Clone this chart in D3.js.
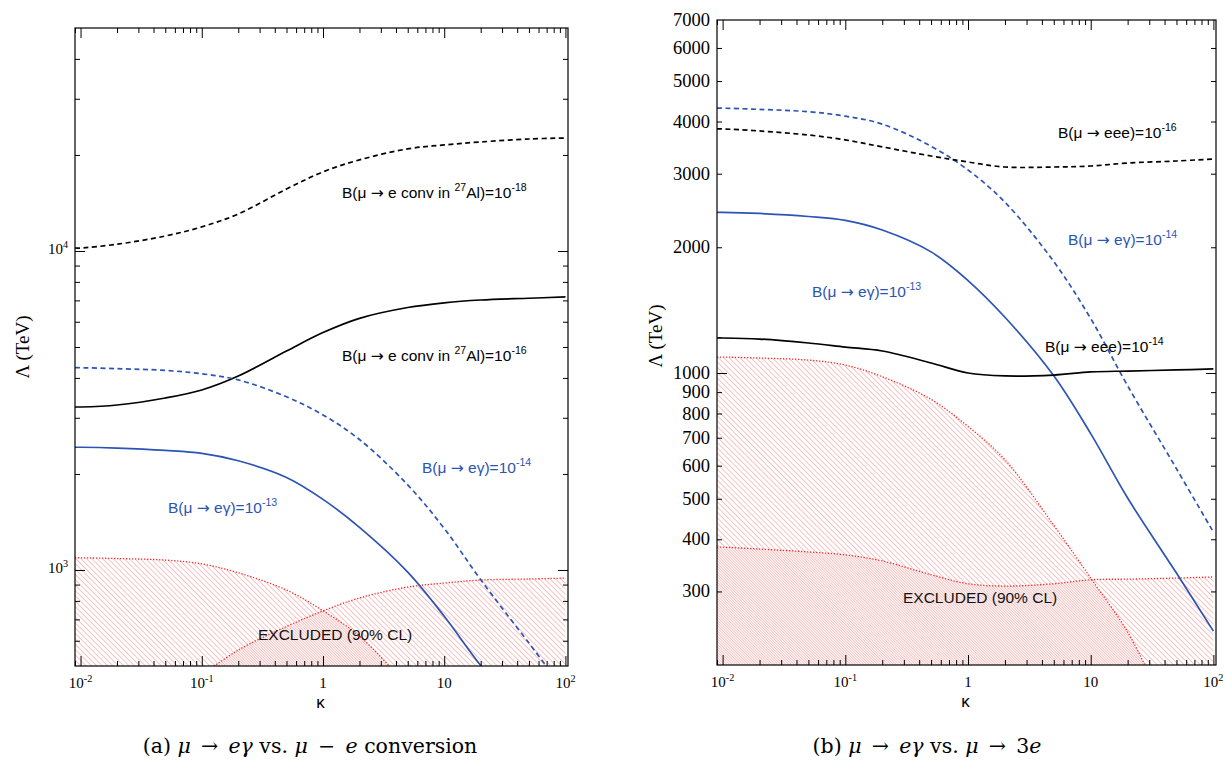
<!DOCTYPE html>
<html>
<head>
<meta charset="utf-8">
<script src="https://cdn.jsdelivr.net/npm/d3@7"></script>
<style>
  body { margin: 0; background: #fff; }
  svg { display: block; }
</style>
</head>
<body>
<svg id="fig" width="1226" height="760"></svg>
<script>
// kappa sample points (0.009 is just left of the first decade, where the frame starts)
const kappa = [0.009, 0.01, 0.02, 0.05, 0.1, 0.2, 0.5, 1, 2, 5, 10, 20, 50, 100];

// mu -> e gamma, same curves in both panels (Lambda in TeV)
const megBr13 = [2425, 2425, 2410, 2370, 2320, 2200, 1950, 1665, 1360, 985, 716, 502, 332, 241];
const megBr14 = [4305, 4305, 4277, 4222, 4120, 3943, 3490, 3062, 2564, 1848, 1350, 932, 590, 416];
const megExclKappa = [0.009, 0.01, 0.02, 0.05, 0.1, 0.2, 0.5, 1, 2, 5, 10, 20, 30];
const megExcl = [1092, 1092, 1086, 1074, 1045, 980, 865, 745, 620, 432, 323, 240, 190];

// mu -> e conversion in Al (panel a)
const convBr16 = [3243, 3243, 3290, 3460, 3667, 4055, 4858, 5550, 6150, 6650, 6880, 7020, 7110, 7175];
const convBr18 = [10215, 10215, 10500, 11140, 11900, 13060, 15640, 17700, 19300, 20900, 21500, 21970, 22440, 22600];
const convExclKappa = [0.1, 0.2, 0.5, 1, 2, 5, 10, 20, 50, 100];
const convExcl = [468, 561, 665, 744, 817, 884, 910, 930, 937, 943];

// mu -> eee (panel b)
const eeeBr14 = [1213, 1213, 1206, 1180, 1154, 1129, 1057, 1000, 984, 989, 1006, 1011, 1017, 1023];
const eeeBr16 = [3840, 3840, 3797, 3714, 3614, 3478, 3308, 3200, 3113, 3113, 3130, 3182, 3218, 3254];
const eeeExcl = [383, 383, 379, 373, 367, 355, 329, 313, 309, 313, 320, 321, 323, 325];

// tick labels
const xTickVals = [0.01, 0.1, 1, 10, 100];
const xTickLabels = [['10', '-2'], ['10', '-1'], ['1', ''], ['10', ''], ['10', '2']];
const yTickValsA = [1000, 10000];
const yTickLabelsA = [['10', '3'], ['10', '4']];
const yTickValsB = [300, 400, 500, 600, 700, 800, 900, 1000, 2000, 3000, 4000, 5000, 6000, 7000];

const BLUE = '#2c54b4';
const RED = '#f52828';
const HATCH = '#f0908f';

const svg = d3.select('#fig');
const defs = svg.append('defs');

// diagonal hatch, two phases so that overlapping regions get denser
function hatch(id, shift) {
  const p = defs.append('pattern')
    .attr('id', id)
    .attr('patternUnits', 'userSpaceOnUse')
    .attr('width', 3.8).attr('height', 10)
    .attr('patternTransform', 'rotate(-45) translate(' + shift + ',0)');
  p.append('line')
    .attr('x1', 0.4).attr('x2', 0.4).attr('y1', 0).attr('y2', 10)
    .attr('stroke', HATCH).attr('stroke-width', 0.6);
}
hatch('hatchA', 0);
hatch('hatchB', 1.9);

const SANS = '"Liberation Sans", Arial, Helvetica, sans-serif';
const SERIF = '"Liberation Serif", "Times New Roman", serif';

// text with superscripts: parts = [[text, isSup, italic, family], ...]
function richText(g, x, y, parts, size, opts) {
  const t = g.append('text')
    .attr('x', x).attr('y', y)
    .attr('font-size', size)
    .attr('font-family', opts.family)
    .attr('fill', opts.color || '#000')
    .attr('text-anchor', opts.anchor || 'start')
    .style('white-space', 'pre');
  let raised = false;
  parts.forEach(([s, sup, ital, fam]) => {
    if (!s) return;
    const ts = t.append('tspan').text(s);
    if (sup && !raised) { ts.attr('dy', -size * 0.42); raised = true; }
    else if (!sup && raised) { ts.attr('dy', size * 0.42); raised = false; }
    if (sup) ts.attr('font-size', size * 0.68);
    if (ital) ts.attr('font-style', 'italic');
    if (fam) ts.attr('font-family', fam);
  });
  return t;
}
const ARROW = ['→', false, false, '"DejaVu Sans", sans-serif'];

function drawPanel(p) {
  const g = svg.append('g');
  const x = d3.scaleLog().domain([0.009, 105]).range([p.left, p.right]);
  const y = d3.scaleLog().domain(p.yDomain).range([p.bottom, p.top]);

  const clipId = 'clip' + p.id;
  defs.append('clipPath').attr('id', clipId)
    .append('rect')
    .attr('x', p.left).attr('y', p.top)
    .attr('width', p.right - p.left).attr('height', p.bottom - p.top);

  const plot = g.append('g').attr('clip-path', 'url(#' + clipId + ')');

  const area = d3.area()
    .x(d => x(d[0])).y0(p.bottom).y1(d => y(d[1]))
    .curve(d3.curveCatmullRom.alpha(0.5));
  const line = d3.line()
    .x(d => x(d[0])).y(d => y(d[1]))
    .curve(d3.curveCatmullRom.alpha(0.5));

  // excluded regions
  p.excl.forEach((e, i) => {
    const pts = e.k.map((k, j) => [k, e.v[j]]);
    plot.append('path').datum(pts)
      .attr('d', area)
      .attr('fill', 'url(#' + (i === 0 ? 'hatchA' : 'hatchB') + ')');
  });
  p.excl.forEach(e => {
    const pts = e.k.map((k, j) => [k, e.v[j]]);
    plot.append('path').datum(pts)
      .attr('d', line)
      .attr('fill', 'none')
      .attr('stroke', RED)
      .attr('stroke-width', 1.3)
      .attr('stroke-dasharray', '1.3,1.7');
  });

  // limit curves
  p.curves.forEach(c => {
    plot.append('path').datum(kappa.map((k, j) => [k, c.v[j]]))
      .attr('d', line)
      .attr('fill', 'none')
      .attr('stroke', c.color)
      .attr('stroke-width', 1.7)
      .attr('stroke-dasharray', c.dashed ? '5,3.5' : null);
  });

  // frame
  g.append('rect')
    .attr('x', p.left).attr('y', p.top)
    .attr('width', p.right - p.left).attr('height', p.bottom - p.top)
    .attr('fill', 'none').attr('stroke', '#000').attr('stroke-width', 1.2);

  // ticks on all four sides, pointing inward
  const isDecade = v => Math.abs(Math.log10(v) - Math.round(Math.log10(v))) < 1e-9;
  const xMinor = x.ticks().filter(v => !isDecade(v));
  const xMajor = x.ticks().filter(v => isDecade(v));
  const yAll = y.ticks().filter(v => v > p.yDomain[0] && v < p.yDomain[1]);
  const yMinor = yAll.filter(v => !isDecade(v));
  const yMajor = yAll.filter(v => isDecade(v));

  const axes = [
    [d3.axisBottom, x, 'translate(0,' + p.bottom + ')', xMajor, xMinor],
    [d3.axisTop, x, 'translate(0,' + p.top + ')', xMajor, xMinor],
    [d3.axisLeft, y, 'translate(' + p.left + ',0)', yMajor, yMinor],
    [d3.axisRight, y, 'translate(' + p.right + ',0)', yMajor, yMinor]
  ];
  axes.forEach(([ax, sc, tr, major, minor]) => {
    [[major, -10], [minor, -5]].forEach(([vals, len]) => {
      const a = g.append('g').attr('transform', tr)
        .call(ax(sc).tickValues(vals).tickSizeInner(len).tickSizeOuter(0).tickFormat(''));
      a.select('.domain').remove();
      a.selectAll('.tick line').attr('stroke', '#000').attr('stroke-width', 1);
    });
  });

  // x tick labels
  xTickVals.forEach((v, i) => {
    richText(g, x(v), p.bottom + 22, [[xTickLabels[i][0], false], [xTickLabels[i][1], true]], 15,
      { family: SERIF, anchor: 'middle' });
  });
  // y tick labels
  p.yLabels(g, y);

  // axis titles
  g.append('text')
    .attr('x', (p.left + p.right) / 2 - 1).attr('y', p.bottom + 42)
    .attr('text-anchor', 'middle')
    .attr('font-family', SANS).attr('font-size', 17)
    .text('κ');
  g.append('text')
    .attr('transform', 'translate(' + p.ylabX + ',' + p.ylabY + ') rotate(-90)')
    .attr('text-anchor', 'middle')
    .attr('font-family', SERIF).attr('font-size', 19)
    .text('Λ (TeV)');

  // curve annotations
  p.notes.forEach(n => {
    richText(g, n.x, n.y, n.parts, 15.5, { family: SANS, color: n.color });
  });

  // caption
  richText(g, p.capX, 753, p.caption, 20.5,
    { family: '"DejaVu Serif", serif', anchor: 'middle' })
    .attr('font-weight', 300);
}

const SP = '\u2002';

drawPanel({
  id: 'A', left: 75, right: 568, top: 28, bottom: 666,
  yDomain: [500, 50000],
  excl: [
    { k: megExclKappa, v: megExcl },
    { k: convExclKappa, v: convExcl }
  ],
  curves: [
    { v: convBr18, color: '#000', dashed: true },
    { v: convBr16, color: '#000', dashed: false },
    { v: megBr14, color: BLUE, dashed: true },
    { v: megBr13, color: BLUE, dashed: false }
  ],
  yLabels: (g, y) => {
    yTickValsA.forEach((v, i) => {
      richText(g, 68, y(v) + 3, [[yTickLabelsA[i][0], false], [yTickLabelsA[i][1], true]], 15,
        { family: SERIF, anchor: 'end' });
    });
  },
  ylabX: 29, ylabY: 347,
  notes: [
    { x: 342, y: 198, color: '#000', parts: [['B(μ ', false], ARROW, [' e conv in ', false], ['27', true], ['Al)=10', false], ['-18', true]] },
    { x: 342, y: 361, color: '#000', parts: [['B(μ ', false], ARROW, [' e conv in ', false], ['27', true], ['Al)=10', false], ['-16', true]] },
    { x: 422, y: 473, color: BLUE, parts: [['B(μ ', false], ARROW, [' eγ)=10', false], ['-14', true]] },
    { x: 168, y: 513, color: BLUE, parts: [['B(μ ', false], ARROW, [' eγ)=10', false], ['-13', true]] },
    { x: 258, y: 640, color: '#111', parts: [['EXCLUDED (90% CL)', false]] }
  ],
  capX: 310,
  caption: [['(a) ', false], ['μ', false, true], [SP + '→' + SP, false], ['eγ', false, true], [' vs. ', false],
            ['μ', false, true], [SP + '−' + SP, false], ['e', false, true], [' conversion', false]]
});

drawPanel({
  id: 'B', left: 717, right: 1216, top: 20, bottom: 665,
  yDomain: [200, 7000],
  excl: [
    { k: megExclKappa, v: megExcl },
    { k: kappa, v: eeeExcl }
  ],
  curves: [
    { v: megBr14, color: BLUE, dashed: true },
    { v: eeeBr16, color: '#000', dashed: true },
    { v: megBr13, color: BLUE, dashed: false },
    { v: eeeBr14, color: '#000', dashed: false }
  ],
  yLabels: (g, y) => {
    yTickValsB.forEach(v => {
      g.append('text')
        .attr('x', 710).attr('y', y(v) + 6)
        .attr('text-anchor', 'end')
        .attr('font-family', SERIF).attr('font-size', 18.5)
        .text(v);
    });
  },
  ylabX: 662, ylabY: 336,
  notes: [
    { x: 1058, y: 138, color: '#000', parts: [['B(μ ', false], ARROW, [' eee)=10', false], ['-16', true]] },
    { x: 1068, y: 245, color: BLUE, parts: [['B(μ ', false], ARROW, [' eγ)=10', false], ['-14', true]] },
    { x: 812, y: 297, color: BLUE, parts: [['B(μ ', false], ARROW, [' eγ)=10', false], ['-13', true]] },
    { x: 1045, y: 352, color: '#000', parts: [['B(μ ', false], ARROW, [' eee)=10', false], ['-14', true]] },
    { x: 903, y: 603, color: '#111', parts: [['EXCLUDED (90% CL)', false]] }
  ],
  capX: 927,
  caption: [['(b) ', false], ['μ', false, true], [SP + '→' + SP, false], ['eγ', false, true], [' vs. ', false],
            ['μ', false, true], [SP + '→' + SP + '3', false], ['e', false, true]]
});
</script>
</body>
</html>
